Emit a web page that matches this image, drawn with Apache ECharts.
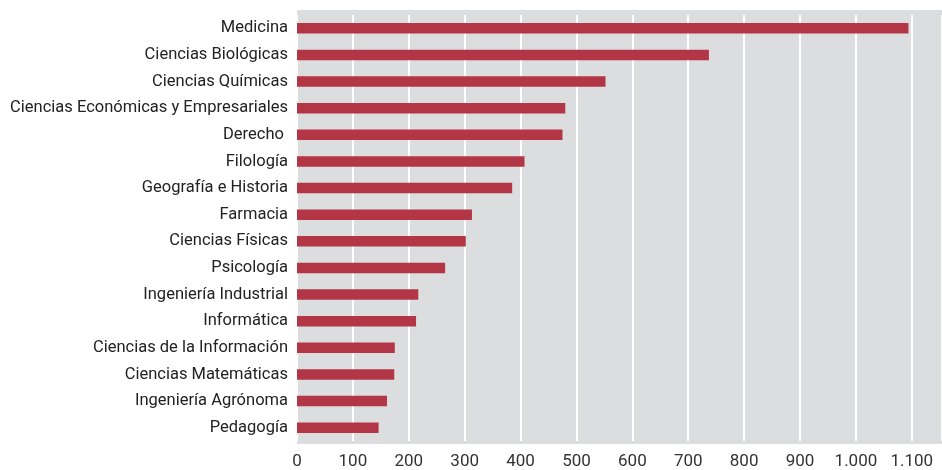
<!DOCTYPE html>
<html>
<head>
<meta charset="utf-8">
<script src="https://cdn.jsdelivr.net/npm/echarts@6/dist/echarts.min.js"></script>
<style>html,body{margin:0;padding:0;background:#fff;overflow:hidden}#c{width:942px;height:470px}</style>
</head>
<body>
<div id="c"></div>
<script>
const categories = ["Medicina","Ciencias Biológicas","Ciencias Químicas","Ciencias Económicas y Empresariales","Derecho ","Filología","Geografía e Historia","Farmacia","Ciencias Físicas","Psicología","Ingeniería Industrial","Informática","Ciencias de la Información","Ciencias Matemáticas","Ingeniería Agrónoma","Pedagogía"];
const values = [1094, 737, 552, 480, 475, 407, 385, 313, 302, 265, 217, 213, 175, 174, 161, 146];
const FONT = "'Roboto', sans-serif";
const chart = echarts.init(document.getElementById('c'));
chart.setOption({
  animation: false,
  graphic: [{type: 'rect', z: -10, left: 297, top: 10, shape: {width: 645, height: 434}, style: {fill: '#dcdddf'}}],
  grid: {left: 297, right: -4, top: 15, bottom: 29, show: false, containLabel: false},
  xAxis: {
    type: 'value', min: 0, max: 1154, interval: 100,
    axisLine: {show: false}, axisTick: {show: false},
    splitLine: {show: true, lineStyle: {color: '#ffffff', width: 2}},
    axisLabel: {showMaxLabel: false, color: '#333', fontSize: 17, fontFamily: FONT, margin: 12,
      formatter: v => v >= 1000 ? (Math.floor(v/1000) + '.' + String(v%1000).padStart(3,'0')) : String(v)}
  },
  yAxis: {
    type: 'category', data: categories, inverse: true,
    axisLine: {show: false}, axisTick: {show: false}, splitLine: {show: false},
    axisLabel: {color: '#222', fontSize: 16.5, fontFamily: FONT, margin: 9}
  },
  series: [{type: 'bar', data: values, barWidth: 10.5, itemStyle: {color: '#b33646'}}]
});
</script>
</body>
</html>
